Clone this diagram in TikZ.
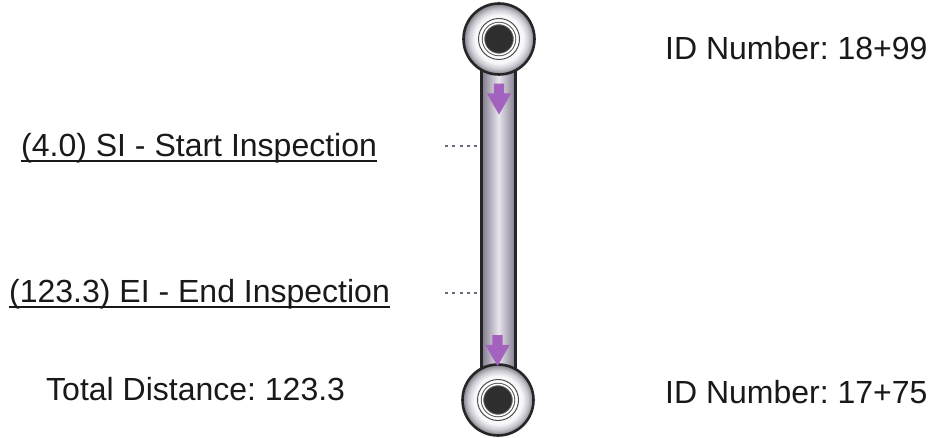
\documentclass[tikz,border=0pt]{standalone}
\usepackage{fontspec}
\setmainfont{Liberation Sans}
\usetikzlibrary{shapes.arrows}
\definecolor{flowpurple}{RGB}{163,98,190}
\definecolor{barshade}{RGB}{128,122,140}
\definecolor{barlight}{RGB}{232,229,238}
\definecolor{leadgray}{RGB}{105,105,125}
\newcommand{\rulelabel}[1]{\setbox0\hbox{#1}\rlap{\raisebox{-5pt}{\rule{\wd0}{2pt}}}\box0}
\pgfdeclareradialshading{eyeshade}{\pgfpoint{0pt}{0pt}}{
    rgb(0bp)=(1,1,1); rgb(17bp)=(0.97,0.97,0.98); rgb(21bp)=(0.80,0.79,0.82); rgb(25bp)=(0.50,0.49,0.53); rgb(50bp)=(0.50,0.49,0.53)}
\begin{document}
\begin{tikzpicture}[
        x=1pt,y=-1pt,
        font=\fontsize{32}{38}\selectfont\frenchspacing,
        inner sep=0pt
    ]
    \tikzset{
        label/.style = {anchor=base west,text=black!90},
        barbox/.style = {rectangle, draw=black!85, line width=2.4pt, left color=barshade, right color=barshade, middle color=barlight, minimum width=34pt, minimum height=300pt},
        eyeouter/.style = {circle, draw=black!85, line width=2.6pt, shading=eyeshade, minimum size=71pt},
        eyering/.style = {circle, draw=black!70, line width=1pt, fill=white, minimum size=41pt},
        eyehole/.style = {circle, draw=black!65, line width=1pt, double=white, double distance=1.5pt, fill=black!82, minimum size=31pt},
        flowarrow/.style = {single arrow, fill=flowpurple, shape border rotate=270, inner sep=5pt, minimum height=31pt, minimum width=24pt, single arrow head extend=7pt, single arrow tip angle=60},
        leader/.style = {draw=leadgray, line width=2.8pt, dash pattern=on 3pt off 4.3pt},
    }
    \useasboundingbox (0,0) rectangle (933,438);
    \coordinate (leadtop) at (445,146);
    \coordinate (leadbot) at (445,293);
    \node[barbox] at (498.5,220) (bar) {};
    \draw[leader] (leadtop) -- (leadtop -| bar.west);
    \draw[leader] (leadbot) -- (leadbot -| bar.west);
    \node[eyeouter] at (499,39) (eyetop) {};
    \node[eyering] at (499,39) (ringtop) {};
    \node[eyehole] at (499,39) (holetop) {};
    \node[eyeouter] at (498,400) (eyebot) {};
    \node[eyering] at (498,400) (ringbot) {};
    \node[eyehole] at (498,400) (holebot) {};
    \node[flowarrow] at (499,94.5) (arrowtop) {};
    \node[flowarrow] at (497.5,346) (arrowbot) {};
    \node[label] at (21,157) (startlab) {\rulelabel{(4.0) SI - Start Inspection}};
    \node[label] at (9,302.5) (endlab) {\rulelabel{(123.3) EI - End Inspection}};
    \node[label] at (46,400) (totallab) {Total Distance: 123.3};
    \node[label] at (665,60) (idtop) {ID Number: 18+99};
    \node[label] at (665,403) (idbot) {ID Number: 17+75};
    \end{tikzpicture}
\end{document}
